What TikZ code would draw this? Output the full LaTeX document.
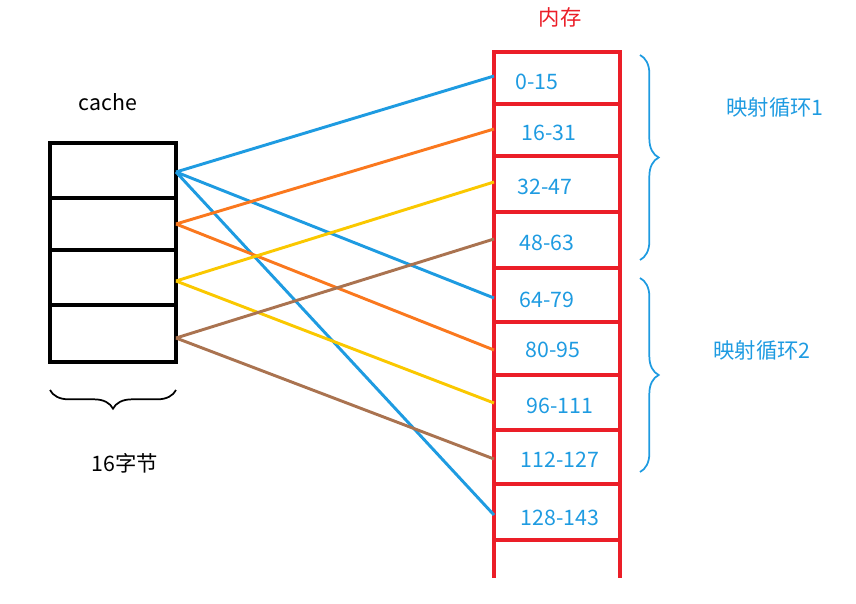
\documentclass[tikz,border=0pt]{standalone}
\usepackage{fontspec}
\setmainfont{Noto Sans CJK SC}
\usepackage{tikz}
\usetikzlibrary{decorations.pathreplacing}
\definecolor{memblue}{RGB}{30,155,225}
\definecolor{memred}{RGB}{235,30,40}
\definecolor{lorange}{RGB}{250,120,30}
\definecolor{lyellow}{RGB}{250,200,0}
\definecolor{lbrown}{RGB}{170,115,80}

\begin{document}
\begin{tikzpicture}[x=0.75pt,y=-0.75pt,
	lbl/.style={font=\fontsize{16}{18}\selectfont},
	addr/.style={lbl,memblue},
	map/.style={line width=2.2pt},
	brace/.style={line width=1.3pt,decorate,decoration={brace,amplitude=14pt}}]

	\useasboundingbox (0,0) rectangle (856,603);

	% cache
	\draw[line width=3pt] (50,143) rectangle (176,362);
	\foreach \y in {198,250,305}
		\draw[line width=3pt] (50,\y) -- (176,\y);
	\node[lbl] (cache) at (108,102) {cache};

	% memory
	\draw[memred,line width=3pt] (494,50) -- (494,578) (620,50) -- (620,578);
	\foreach \y in {52,104,156,212,268,322,375,430,484,540}
		\draw[memred,line width=3pt] (494,\y) -- (620,\y);
	\node[lbl,memred] (mem) at (560,17) {内存};

	\node[addr] (a0) at (537,82) {0-15};
	\node[addr] (a1) at (549,133) {16-31};
	\node[addr] (a2) at (545,187) {32-47};
	\node[addr] (a3) at (547,243) {48-63};
	\node[addr] (a4) at (547,300) {64-79};
	\node[addr] (a5) at (553,350) {80-95};
	\node[addr] (a6) at (560,406) {96-111};
	\node[addr] (a7) at (560,460) {112-127};
	\node[addr] (a8) at (560,518) {128-143};

	% end points
	\coordinate (c0) at (176,172);
	\coordinate (c1) at (176,224);
	\coordinate (c2) at (176,281);
	\coordinate (c3) at (176,338);
	\coordinate (m0) at (494,76);
	\coordinate (m1) at (494,129);
	\coordinate (m2) at (494,182);
	\coordinate (m3) at (494,239);
	\coordinate (m4) at (494,298);
	\coordinate (m5) at (494,350);
	\coordinate (m6) at (494,403);
	\coordinate (m7) at (494,459);
	\coordinate (m8) at (494,515);

	\draw[map,memblue] (c0) -- (m0) (c0) -- (m4) (c0) -- (m8);
	\draw[map,lorange] (c1) -- (m1) (c1) -- (m5);
	\draw[map,lyellow] (c2) -- (m2) (c2) -- (m6);
	\draw[map,lbrown] (c3) -- (m3) (c3) -- (m7);

	% braces
	\draw[brace,memblue] (640,55) -- (640,260);
	\draw[brace,memblue] (640,278) -- (640,472);
	\node[lbl,memblue] (loop1) at (775,107) {映射循环1};
	\node[lbl,memblue] (loop2) at (762,350) {映射循环2};

	\draw[line width=1.3pt,decorate,decoration={brace,amplitude=14pt,mirror}] (50,390) -- (176,390);
	\node[lbl] (size) at (125,463) {16字节};
\end{tikzpicture}
\end{document}
